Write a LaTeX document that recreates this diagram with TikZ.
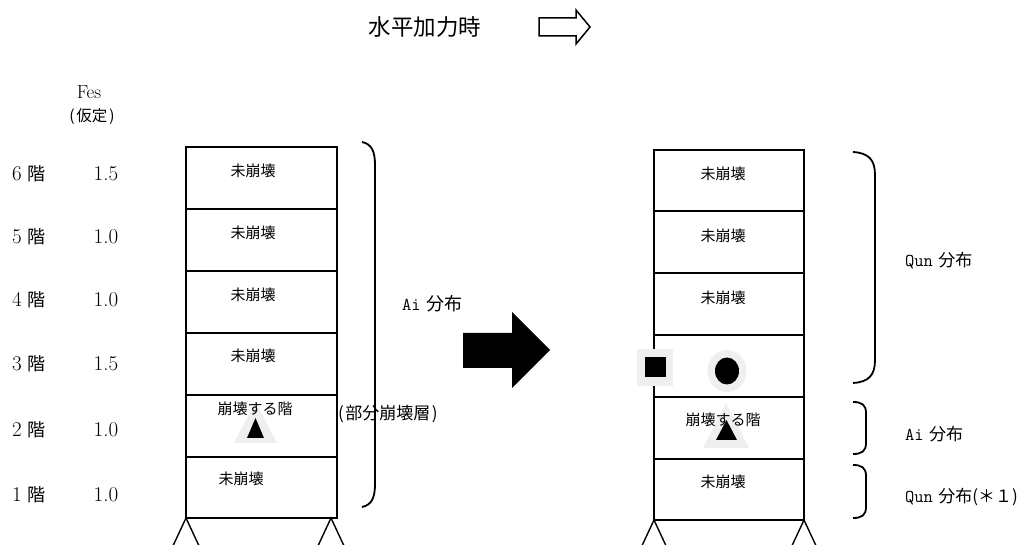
\documentclass[tikz,border=0pt]{standalone}
\usepackage{fontspec}
\newfontfamily\jp{Noto Sans CJK JP}
\definecolor{ghost}{HTML}{EFEFEF}
\tikzset{
  bld/.style={draw=black, line width=2.2pt},
  brc/.style={draw=black, line width=1.8pt},
  sup/.style={draw=black, line width=1.4pt},
  txt/.style={inner sep=0pt, font=\jp\fontsize{15}{18}\selectfont},
  lbl/.style={inner sep=0pt, anchor=west, font=\fontsize{21}{24}\selectfont},
  dist/.style={inner sep=0pt, anchor=west, font=\fontsize{18}{21}\selectfont},
}
\newcommand{\mono}[1]{{\ttfamily\fontsize{18}{21}\selectfont #1}}
\begin{document}
\begin{tikzpicture}[x=1pt,y=-1pt]
\useasboundingbox (0,0) rectangle (1021,545);

% title and hollow arrow
\node[inner sep=0pt, font=\jp\fontsize{22.5}{26}\selectfont] (title) at (425,27) {水平加力時};
\draw[line width=1.5pt, line join=miter] (539,18) -- (576,18) -- (576,10) -- (590,27) -- (576,44) -- (576,36) -- (539,36) -- cycle;

% Fes column
\node[inner sep=0pt, font=\fontsize{19}{22}\selectfont] (fes) at (89,92) {Fes};
\node[inner sep=0pt, font=\jp\fontsize{15.5}{18}\selectfont] (kat) at (92,117) {(\hspace{2pt}仮定\hspace{2pt})};
\foreach \n/\v/\y in {6/1.5/174, 5/1.0/237, 4/1.0/300, 3/1.5/364, 2/1.0/430, 1/1.0/495}{
  \node[lbl] (f\n) at (12,\y) {\n\hspace{6pt}{\jp\fontsize{18}{21}\selectfont 階}};
  \node[inner sep=0pt, font=\fontsize{21}{24}\selectfont] (v\n) at (106,\y) {\v};
}

% left building
\draw[bld] (186,147) rectangle (337,518);
\foreach \y in {209,271,333,395,457}{ \draw[bld] (186,\y) -- (337,\y); }
\foreach \y in {171,233,295,356}{ \node[txt] at (253,\y) {未崩壊}; }
\node[txt] (lb) at (241,479) {未崩壊};
\fill[ghost] (234,443) -- (255.5,402) -- (277,443) -- cycle;
\node[txt] (lc) at (255,409) {崩壊する階};
\fill[black] (247,438) -- (255.5,418) -- (264,438) -- cycle;
\draw[sup] (172,548) -- (186,518) -- (200,548);
\draw[sup] (317,548) -- (331,518) -- (345,548);
\draw[brc] (362,142) .. controls (372,144) and (375,152) .. (375,165) -- (375,484) .. controls (375,497) and (372,505) .. (362,507);
\node[dist] (lai) at (402,304) {\mono{Ai} {\jp 分布}};
\node[inner sep=0pt, anchor=west, font=\jp\fontsize{17}{20}\selectfont] (lpart) at (338,414) {(\hspace{1.5pt}部分崩壊層\hspace{1.5pt})};

% big arrow
\fill[black] (463,333) -- (512,333) -- (512,312) -- (550,350) -- (512,388) -- (512,368) -- (463,368) -- cycle;

% right building
\draw[bld] (654,150) rectangle (804,520);
\foreach \y in {211,273,335,397,459}{ \draw[bld] (654,\y) -- (804,\y); }
\foreach \y in {174,236,298}{ \node[txt] at (723,\y) {未崩壊}; }
\node[txt] (rb) at (723,482) {未崩壊};
\fill[ghost] (703,448) -- (726,403) -- (749,448) -- cycle;
\node[txt] (rc) at (723,420) {崩壊する階};
\fill[black] (716,440) -- (726.5,420) -- (737,440) -- cycle;
\fill[ghost] (637,349) rectangle (673,386);
\fill[black] (645,357) rectangle (666,377);
\fill[ghost] (727,371) ellipse [x radius=19.5pt, y radius=21pt];
\fill[black] (727,371) ellipse [x radius=12pt, y radius=13.5pt];
\draw[sup] (640,550) -- (654,520) -- (668,550);
\draw[sup] (790,550) -- (804,520) -- (818,550);

% right braces
\draw[brc] (853,152) .. controls (869,153) and (875,160) .. (875,175) -- (875,360) .. controls (875,375) and (869,382) .. (853,383);
\draw[brc] (853,402) .. controls (862,402) and (866,405) .. (866,413) -- (866,443) .. controls (866,451) and (862,454) .. (853,454);
\draw[brc] (853,465) .. controls (862,465) and (866,468) .. (866,476) -- (866,507) .. controls (866,515) and (862,518) .. (853,518);
\node[dist] (rq) at (905,261) {\mono{Qun} {\jp\fontsize{17}{20}\selectfont 分布}};
\node[dist] (rai) at (905,434) {\mono{Ai} {\jp\fontsize{17}{20}\selectfont 分布}};
\node[dist] (rq1) at (905,497) {\mono{Qun} {\jp\fontsize{17}{20}\selectfont 分布(＊１)}};
\end{tikzpicture}
\end{document}
